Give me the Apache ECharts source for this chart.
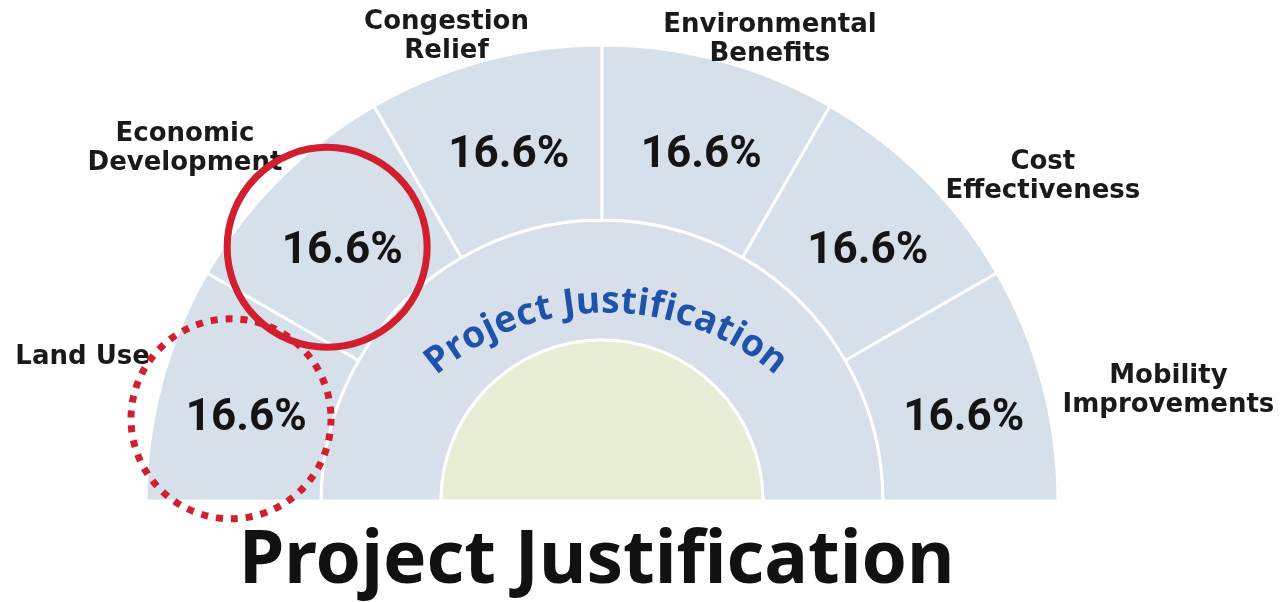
<!DOCTYPE html>
<html><head><meta charset="utf-8">
<script src="https://cdn.jsdelivr.net/npm/echarts@6/dist/echarts.min.js"></script>
<style>html,body{margin:0;padding:0;background:#fff}#c{width:1283px;height:602px}</style>
</head><body><div id="c"></div>
<script>
// ---- data ----
const categories = ['Land Use', 'Economic\nDevelopment', 'Congestion\nRelief', 'Environmental\nBenefits', 'Cost\nEffectiveness', 'Mobility\nImprovements'];
const shares = [16.6, 16.6, 16.6, 16.6, 16.6, 16.6];
const ringLabel = 'Project Justification';
const titleText = 'Project Justification';
const solidCircled = 'Economic\nDevelopment';
const dottedCircled = 'Land Use';

// ---- layout (not data) ----
const CX = 602, CY = 501, R_OUT = 456, R_IN = 281, R_CORE = 161;
const FONT = '"Noto Sans", "DejaVu Sans", sans-serif';
// polar spots [angle deg, radius px] of the outside category labels
const labelSpots = [[164.5, 539], [139.8, 546], [108.5, 490], [70, 491], [36.3, 547], [11, 577]];

const chart = echarts.init(document.getElementById('c'), null, {renderer: 'canvas'});

const pieData = categories.map((c, i) => ({name: c, value: shares[i]}));
const n = categories.length;
function segAngle(name) {
  const i = categories.indexOf(name);
  return 180 - (180 / n) * (i + 0.5);
}
function polar(angDeg, r, cx, cy) {
  const a = angDeg * Math.PI / 180;
  return [(cx ?? CX) + r * Math.cos(a), (cy ?? CY) - r * Math.sin(a)];
}

// curved text along a flatter arc
const meas = document.createElement('canvas').getContext('2d');
const ringFont = 'bold 37px ' + FONT;
meas.font = ringFont;
const spacing = 1;
const TCX = CX + 4, TCY = 573, R_TEXT = 271;
const chars = ringLabel.split('');
const widths = chars.map(ch => meas.measureText(ch).width + spacing);
const total = widths.reduce((a, b) => a + b, 0) - spacing;
let cur = Math.PI / 2 + (total / R_TEXT) / 2;
const ringGraphics = [];
chars.forEach((ch, i) => {
  const w = widths[i] - spacing;
  const mid = cur - (w / 2) / R_TEXT;
  ringGraphics.push({
    type: 'text',
    x: TCX + R_TEXT * Math.cos(mid),
    y: TCY - R_TEXT * Math.sin(mid),
    rotation: mid - Math.PI / 2,
    style: {text: ch, font: ringFont, fill: '#1e52ab', align: 'center', verticalAlign: 'middle'},
    z: 100
  });
  cur -= widths[i] / R_TEXT;
});

const solidPos = polar(segAngle(solidCircled) + 2.3, 374);
const dotPos = polar(segAngle(dottedCircled) + 2.5, 380);

const option = {
  backgroundColor: '#ffffff',
  animation: false,
  title: {
    text: titleText, left: 234, top: 521,
    textStyle: {fontFamily: FONT, fontWeight: 'bold', fontSize: 73, color: '#111111'}
  },
  series: [
    {
      type: 'pie', center: [CX, CY], radius: [R_IN, R_OUT], startAngle: 180, endAngle: 0,
      clockwise: true, silent: true, avoidLabelOverlap: false,
      itemStyle: {color: '#d5e0ea', borderColor: '#ffffff', borderWidth: 3},
      label: {show: true, position: 'inside', formatter: '{c}%', fontFamily: 'Roboto, "Noto Sans", sans-serif', fontWeight: 'bold', fontSize: 44, color: '#141414', offset: [3, 14]},
      labelLine: {show: false},
      data: pieData, z: 2
    },
    {
      type: 'pie', center: [CX, CY], radius: [R_IN, R_OUT], startAngle: 180, endAngle: 0,
      clockwise: true, silent: true, avoidLabelOverlap: false,
      itemStyle: {color: 'rgba(0,0,0,0)', borderWidth: 0},
      label: {show: true, position: 'outside', formatter: '{b}', fontFamily: '"DejaVu Sans", sans-serif', fontWeight: 'bold', fontSize: 26, lineHeight: 29, color: '#1a1a1a', align: 'center'},
      labelLine: {show: false, length: 30, length2: 10},
      labelLayout: function (p) {
        const s = labelSpots[p.dataIndex];
        const pt = polar(s[0], s[1]);
        return {x: pt[0], y: pt[1], align: 'center', verticalAlign: 'middle'};
      },
      data: pieData, z: 3
    },
    {
      type: 'pie', center: [CX, CY], radius: [R_CORE, R_IN], startAngle: 180, endAngle: 0,
      silent: true, label: {show: false}, labelLine: {show: false},
      itemStyle: {color: '#d7e0ea', borderColor: '#ffffff', borderWidth: 3},
      data: [{name: ringLabel, value: 1}], z: 1
    },
    {
      type: 'pie', center: [CX, CY], radius: [0, R_CORE], startAngle: 180, endAngle: 0,
      silent: true, label: {show: false}, labelLine: {show: false},
      itemStyle: {color: '#e6efd6', borderColor: '#ffffff', borderWidth: 3},
      data: [{name: 'core', value: 1}], z: 1
    }
  ],
  graphic: ringGraphics.concat([
    {type: 'circle', shape: {cx: solidPos[0], cy: solidPos[1], r: 100}, style: {fill: 'none', stroke: '#d11f30', lineWidth: 7}, z: 120},
    {type: 'circle', shape: {cx: dotPos[0], cy: dotPos[1], r: 100}, style: {fill: 'none', stroke: '#d11f30', lineWidth: 7, lineDash: [7, 8]}, z: 120}
  ])
};
chart.setOption(option);
</script></body></html>
